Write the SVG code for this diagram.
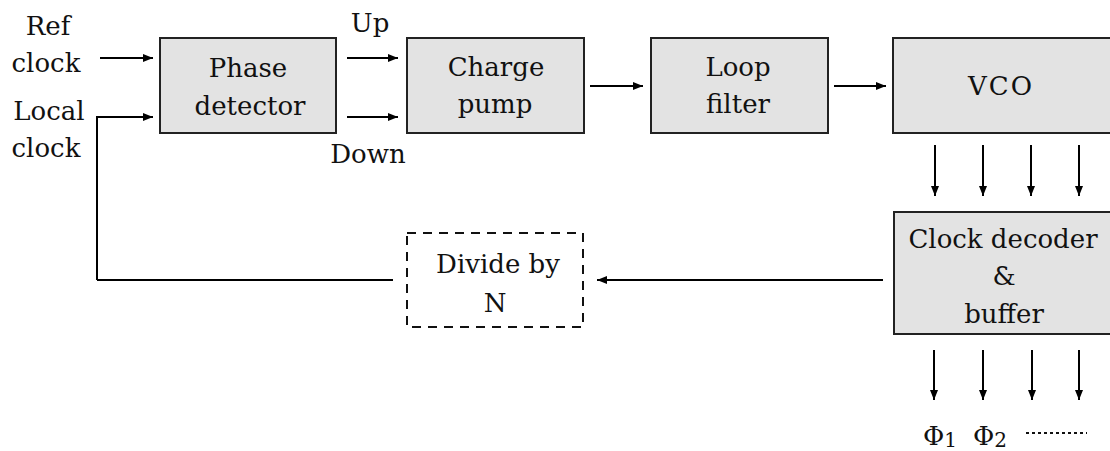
<svg xmlns="http://www.w3.org/2000/svg" width="1110" height="451" viewBox="0 0 1110 451">
<style>
.box{fill:#e3e3e3;stroke:#222;stroke-width:2}
.dash{fill:none;stroke:#111;stroke-width:2;stroke-dasharray:9 7}
.t{font-family:"DejaVu Serif","Liberation Serif",serif;font-size:26px;fill:#111;text-anchor:middle}
.c{fill:none;stroke:#000;stroke-width:2}
.a{marker-end:url(#ah)}
</style>
<defs>
<marker id="ah" viewBox="0 0 10 10" refX="10" refY="5" markerWidth="10" markerHeight="10" markerUnits="userSpaceOnUse" orient="auto">
<path d="M0,1 L10,5 L0,9 Z" fill="#000"/>
</marker>
</defs>
<rect width="1110" height="451" fill="#fff"/>
<g id="labels-in">
<text class="t" x="48" y="35">Ref</text>
<text class="t" x="46" y="72">clock</text>
<text class="t" x="49" y="120">Local</text>
<text class="t" x="46" y="157">clock</text>
<text class="t" x="370" y="32">Up</text>
<text class="t" x="368" y="163">Down</text>
</g>
<g id="phase-detector">
<rect class="box" x="160" y="38" width="176" height="95"/>
<text class="t" x="248" y="77">Phase</text>
<text class="t" x="250" y="115">detector</text>
</g>
<g id="charge-pump">
<rect class="box" x="407" y="38" width="177" height="95"/>
<text class="t" x="496" y="76">Charge</text>
<text class="t" x="495" y="113">pump</text>
</g>
<g id="loop-filter">
<rect class="box" x="651" y="38" width="177" height="95"/>
<text class="t" x="738" y="76">Loop</text>
<text class="t" x="738" y="113">filter</text>
</g>
<g id="vco">
<rect class="box" x="893" y="38" width="218" height="95"/>
<text class="t" x="1001" y="95" letter-spacing="2">VCO</text>
</g>
<g id="clock-decoder">
<rect class="box" x="894" y="212" width="217" height="122"/>
<text class="t" x="1003" y="248">Clock decoder</text>
<text class="t" x="1004" y="285">&amp;</text>
<text class="t" x="1004" y="323">buffer</text>
</g>
<g id="divide-by-n">
<rect class="dash" x="407" y="233" width="176" height="94"/>
<text class="t" x="498" y="273">Divide by</text>
<text class="t" x="495" y="312">N</text>
</g>
<g id="outputs">
<text class="t" x="940" y="445" font-size="31">Φ<tspan font-size="20" dy="2">1</tspan></text>
<text class="t" x="990" y="445" font-size="31">Φ<tspan font-size="20" dy="2">2</tspan></text>
<line x1="1026" y1="433" x2="1087" y2="433" stroke="#111" stroke-width="1.8" stroke-dasharray="3 3"/>
</g>
<g id="connectors">
<path class="c a" d="M100 58 H153"/>
<path class="c a" d="M97 280 V117 H153"/>
<path class="c a" d="M347 58 H398"/>
<path class="c a" d="M347 117 H398"/>
<path class="c a" d="M590 86 H643"/>
<path class="c a" d="M834 86 H886"/>
<path class="c a" d="M935 145 V196"/>
<path class="c a" d="M983 145 V196"/>
<path class="c a" d="M1031 145 V196"/>
<path class="c a" d="M1079 145 V196"/>
<path class="c a" d="M934 350 V400"/>
<path class="c a" d="M983 350 V400"/>
<path class="c a" d="M1032 350 V400"/>
<path class="c a" d="M1079 350 V400"/>
<path class="c a" d="M883 280 H597"/>
<path class="c" d="M393 280 H97"/>
</g>
</svg>
